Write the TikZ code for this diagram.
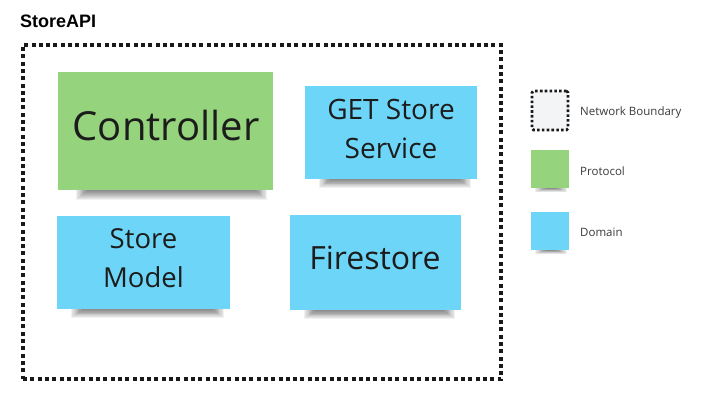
\documentclass[tikz,border=0pt]{standalone}
\usepackage{fontspec}
\newfontfamily\osans{Open Sans}
\newfontfamily\lsans{Liberation Sans}
\definecolor{protogreen}{HTML}{95D47C}
\definecolor{domainblue}{HTML}{6DD6F8}
\definecolor{nbfill}{HTML}{F3F4F6}
\definecolor{inktext}{HTML}{1C1C1C}
\definecolor{legtext}{HTML}{3A3A3A}
\tikzset{
  sticky/.style={draw=none, inner sep=0pt, outer sep=0pt},
  protostick/.style={sticky, fill=protogreen},
  domstick/.style={sticky, fill=domainblue},
  shadelayer/.style={fill=black, opacity=0.055},
  stext/.style={inner sep=0pt, text=inktext, align=center},
  legtxt/.style={inner sep=0pt, text=legtext, anchor=base west,
    font=\osans\fontsize{11.5}{13}\selectfont},
  boundary/.style={draw=black!90, line width=3.5pt, dash pattern=on 4pt off 3.3pt},
}
% soft shadow under a sticky: #1 node, #2 left inset, #3 right inset, #4 depth
\newcommand\stkshadow[4]{%
  \foreach \i in {0,...,9}{%
    \fill[shadelayer] ([xshift={#2pt+\i*1.2pt}]#1.south west) rectangle
      ([xshift={-#3pt-\i*1.2pt},yshift={-#4pt+\i*#4pt/10}]#1.south east);}}
\begin{document}
\begin{tikzpicture}[x=1pt,y=-1pt]
\useasboundingbox[fill=white] (0,0) rectangle (704,412);
% title
\node[anchor=base west, inner sep=0pt, font=\lsans\bfseries\fontsize{18}{20}\selectfont] (title) at (20,28) {StoreAPI};
% boundary
\node[boundary, minimum width=478pt, minimum height=334pt, inner sep=0pt] (bound) at (262,212) {};
% stickies
\node[protostick, minimum width=215pt, minimum height=118pt] (ctrl) at (165.5,131) {};
\node[domstick, minimum width=172pt, minimum height=93pt] (get) at (391,132.5) {};
\node[domstick, minimum width=173pt, minimum height=93pt] (model) at (143.5,262.5) {};
\node[domstick, minimum width=171pt, minimum height=95pt] (fire) at (375.5,262.5) {};
\stkshadow{ctrl}{18}{6}{10}
\stkshadow{get}{14}{6}{9}
\stkshadow{model}{14}{6}{9}
\stkshadow{fire}{14}{6}{9}
% texts
\node[stext, anchor=base, font=\osans\fontsize{40}{48}\selectfont] (ctrl-t) at (166,140) {Controller};
\node[stext, anchor=north, font=\osans\fontsize{28}{39}\selectfont] (get-t) at (391,99) {GET Store\\Service};
\node[stext, anchor=north, font=\osans\fontsize{27.5}{39}\selectfont] (model-t) at (143.5,228) {Store\\Model};
\node[stext, anchor=base, font=\osans\fontsize{32}{38}\selectfont] (fire-t) at (375,269) {Firestore};
% legend
\node[draw=black!90, fill=nbfill, line width=2.6pt, dash pattern=on 2.6pt off 2.2pt, rounded corners=1.5pt,
  minimum width=36pt, minimum height=39pt, inner sep=0pt] (leg-nb) at (550,110.5) {};
\node[protostick, minimum width=38pt, minimum height=38pt] (leg-pr) at (550,169) {};
\node[domstick, minimum width=38pt, minimum height=38pt] (leg-dm) at (550,231) {};
\stkshadow{leg-pr}{4}{2}{4}
\stkshadow{leg-dm}{4}{2}{4}
\node[legtxt] (leg-nb-t) at (580,115) {Network Boundary};
\node[legtxt] (leg-pr-t) at (580,175) {Protocol};
\node[legtxt] (leg-dm-t) at (580,236) {Domain};
\end{tikzpicture}
\end{document}
